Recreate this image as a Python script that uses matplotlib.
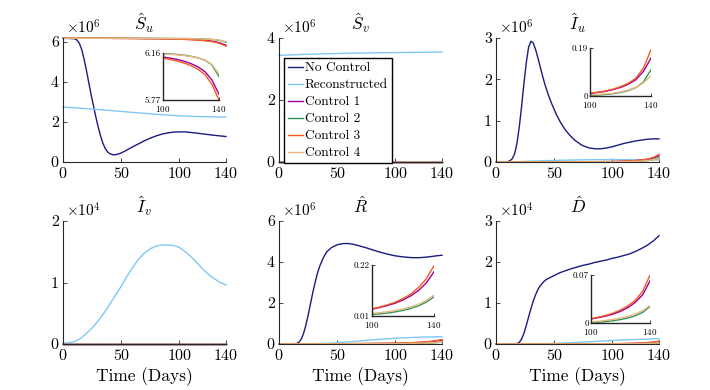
import matplotlib
matplotlib.use("Agg")
import matplotlib.pyplot as plt

plt.rcParams["font.family"] = "cmr10"
plt.rcParams["mathtext.fontset"] = "cm"
plt.rcParams["axes.formatter.use_mathtext"] = True

# series names and colours
labels = ["No Control", "Reconstructed", "Control 1", "Control 2", "Control 3", "Control 4"]
colors = ["#1b1b80", "#80c8f2", "#990099", "#2e9460", "#f5591f", "#edb97e"]

# shared time grid for the control runs
t_ctrl = [0, 20, 40, 60, 80, 90, 100, 105, 110, 115, 120, 125, 130, 135, 140]

# ---- S_u (x1e6)
t_su_nc = [0, 5, 10, 12, 14, 16, 18, 20, 22, 24, 26, 28, 30, 32, 34, 36, 38, 40, 43, 46,
           50, 55, 60, 65, 70, 75, 80, 85, 90, 95, 100, 105, 110, 115, 120, 130, 140]
su_nc = [6.16, 6.16, 6.14, 6.08, 5.92, 5.62, 5.15, 4.6, 4.0, 3.4, 2.85, 2.3, 1.8, 1.35,
         0.98, 0.7, 0.52, 0.42, 0.36, 0.37, 0.45, 0.6, 0.76, 0.91, 1.06, 1.19, 1.3,
         1.39, 1.45, 1.49, 1.5, 1.5, 1.47, 1.44, 1.4, 1.33, 1.27]
t_su_rec = [0, 20, 40, 60, 80, 100, 120, 140]
su_rec = [2.74, 2.66, 2.57, 2.47, 2.38, 2.3, 2.26, 2.24]
su_c1 = [6.170, 6.168, 6.164, 6.156, 6.145, 6.137, 6.127, 6.118, 6.107, 6.092, 6.072, 6.045, 6.005, 5.935, 5.817]
su_c2 = [6.170, 6.169, 6.168, 6.165, 6.161, 6.158, 6.155, 6.152, 6.148, 6.142, 6.133, 6.120, 6.100, 6.060, 5.965]
su_c3 = [6.170, 6.167, 6.162, 6.152, 6.138, 6.129, 6.117, 6.107, 6.094, 6.077, 6.055, 6.025, 5.980, 5.900, 5.770]
su_c4 = [6.170, 6.169, 6.167, 6.164, 6.159, 6.155, 6.152, 6.149, 6.145, 6.139, 6.131, 6.118, 6.100, 6.065, 5.985]

# ---- S_v (x1e6)
t_sv_rec = [0, 20, 40, 60, 80, 100, 120, 140]
sv_rec = [3.44, 3.47, 3.49, 3.51, 3.52, 3.53, 3.54, 3.545]
sv_zero = [0.0] * len(t_ctrl)

# ---- I_u (x1e6)
t_iu_nc = [0, 8, 10, 12, 14, 16, 18, 20, 22, 24, 26, 28, 30, 32, 34, 36, 38, 40, 42, 45,
           48, 50, 52, 55, 58, 60, 63, 65, 68, 70, 73, 75, 78, 80, 85, 90, 95, 100, 105,
           110, 115, 120, 125, 130, 135, 140]
iu_nc = [0.0, 0.003, 0.01, 0.03, 0.08, 0.2, 0.45, 0.85, 1.35, 1.9, 2.4, 2.78, 2.92, 2.88,
         2.72, 2.52, 2.3, 2.08, 1.88, 1.62, 1.4, 1.27, 1.14, 0.98, 0.84, 0.76, 0.66, 0.6,
         0.52, 0.48, 0.42, 0.39, 0.36, 0.34, 0.32, 0.32, 0.34, 0.37, 0.41, 0.45, 0.48,
         0.51, 0.53, 0.55, 0.56, 0.56]
t_iu_rec = [0, 20, 40, 60, 80, 100, 120, 140]
iu_rec = [0.0, 0.01, 0.03, 0.045, 0.055, 0.058, 0.055, 0.05]
iu_c1 = [0.001, 0.002, 0.003, 0.004, 0.006, 0.008, 0.010, 0.014, 0.018, 0.025, 0.034, 0.046, 0.064, 0.097, 0.150]
iu_c2 = [0.0, 0.0, 0.0005, 0.0008, 0.0012, 0.0016, 0.002, 0.004, 0.006, 0.009, 0.014, 0.021, 0.033, 0.055, 0.104]
iu_c3 = [0.001, 0.002, 0.003, 0.005, 0.007, 0.009, 0.011, 0.015, 0.020, 0.027, 0.037, 0.050, 0.070, 0.110, 0.183]
iu_c4 = [0.0005, 0.001, 0.0015, 0.002, 0.003, 0.0035, 0.004, 0.006, 0.008, 0.011, 0.016, 0.023, 0.034, 0.052, 0.080]

# ---- I_v (x1e4)
t_iv_rec = [0, 5, 10, 15, 20, 25, 30, 35, 40, 45, 50, 55, 60, 65, 70, 75, 80, 85, 90, 95,
            100, 105, 110, 115, 120, 125, 130, 135, 140]
iv_rec = [0.016, 0.02, 0.04, 0.09, 0.17, 0.26, 0.37, 0.5, 0.64, 0.79, 0.94, 1.1, 1.25,
          1.38, 1.48, 1.55, 1.59, 1.61, 1.61, 1.6, 1.57, 1.5, 1.42, 1.32, 1.22, 1.13,
          1.06, 1.0, 0.96]

# ---- R (x1e6)
t_r_nc = [0, 15, 17, 19, 21, 23, 25, 27, 29, 31, 33, 35, 38, 41, 45, 50, 55, 60, 65, 70,
          75, 80, 85, 90, 95, 100, 105, 110, 115, 120, 125, 130, 135, 140]
r_nc = [0.0, 0.02, 0.08, 0.22, 0.5, 0.9, 1.4, 1.95, 2.5, 3.0, 3.45, 3.8, 4.2, 4.5, 4.7,
        4.84, 4.9, 4.9, 4.85, 4.77, 4.69, 4.6, 4.51, 4.43, 4.36, 4.3, 4.26, 4.23, 4.21,
        4.21, 4.23, 4.26, 4.3, 4.33]
t_r_rec = [0, 20, 40, 60, 80, 100, 120, 140]
r_rec = [0.0, 0.005, 0.03, 0.1, 0.2, 0.28, 0.33, 0.36]
r_c1 = [0.0, 0.003, 0.008, 0.015, 0.025, 0.031, 0.038, 0.045, 0.053, 0.063, 0.076, 0.093, 0.115, 0.146, 0.192]
r_c2 = [0.0, 0.001, 0.004, 0.007, 0.011, 0.013, 0.016, 0.019, 0.022, 0.027, 0.033, 0.041, 0.052, 0.067, 0.089]
r_c3 = [0.0, 0.003, 0.008, 0.016, 0.026, 0.032, 0.040, 0.047, 0.056, 0.067, 0.082, 0.100, 0.127, 0.163, 0.217]
r_c4 = [0.0, 0.002, 0.005, 0.009, 0.014, 0.017, 0.021, 0.024, 0.028, 0.033, 0.039, 0.047, 0.058, 0.074, 0.096]

# ---- D (x1e4)
t_d_nc = [0, 18, 20, 22, 24, 26, 28, 30, 32, 34, 36, 38, 41, 43, 45, 47, 50, 55, 60, 65,
          70, 75, 80, 85, 90, 95, 100, 105, 110, 115, 120, 125, 130, 135, 140]
d_nc = [0.0, 0.01, 0.04, 0.12, 0.26, 0.45, 0.66, 0.86, 1.05, 1.2, 1.33, 1.42, 1.52, 1.57,
        1.6, 1.63, 1.67, 1.74, 1.79, 1.84, 1.88, 1.92, 1.95, 1.99, 2.02, 2.05, 2.09,
        2.12, 2.16, 2.2, 2.26, 2.33, 2.41, 2.51, 2.64]
t_d_rec = [0, 30, 50, 70, 90, 110, 140]
d_rec = [0.0, 0.003, 0.015, 0.04, 0.07, 0.1, 0.13]
d_c1 = [0.0, 0.0005, 0.0014, 0.0027, 0.004, 0.0048, 0.0058, 0.0078, 0.010, 0.013, 0.017, 0.0225, 0.030, 0.041, 0.0613]
d_c2 = [0.0, 0.0, 0.0001, 0.0001, 0.0002, 0.0002, 0.0003, 0.001, 0.002, 0.0033, 0.005, 0.0073, 0.0105, 0.0155, 0.024]
d_c3 = [0.0, 0.0005, 0.0015, 0.003, 0.0045, 0.0053, 0.0063, 0.0085, 0.011, 0.0145, 0.019, 0.025, 0.033, 0.046, 0.070]
d_c4 = [0.0, 0.0001, 0.0003, 0.0006, 0.0009, 0.0011, 0.0014, 0.0025, 0.0038, 0.0053, 0.0072, 0.0097, 0.013, 0.018, 0.0256]

zeros_ctrl = [0.0] * len(t_ctrl)

panels = [
    dict(title=r"$\hat{S}_u$", exp=6, ylim=6.18, yt=[0, 2, 4, 6],
         nc=(t_su_nc, su_nc), rec=(t_su_rec, su_rec), ctrl=[su_c1, su_c2, su_c3, su_c4],
         inset=(5.77, 6.16), ipos=[163, 53, 219, 100]),
    dict(title=r"$\hat{S}_v$", exp=6, ylim=4, yt=[0, 2, 4],
         nc=(t_ctrl, zeros_ctrl), rec=(t_sv_rec, sv_rec), ctrl=[sv_zero] * 4,
         inset=None, ipos=None),
    dict(title=r"$\hat{I}_u$", exp=6, ylim=3, yt=[0, 1, 2, 3],
         nc=(t_iu_nc, iu_nc), rec=(t_iu_rec, iu_rec), ctrl=[iu_c1, iu_c2, iu_c3, iu_c4],
         inset=(0, 0.19), ipos=[590, 48, 651, 96]),
    dict(title=r"$\hat{I}_v$", exp=4, ylim=2, yt=[0, 1, 2],
         nc=(t_ctrl, zeros_ctrl), rec=(t_iv_rec, iv_rec), ctrl=[zeros_ctrl] * 4,
         inset=None, ipos=None),
    dict(title=r"$\hat{R}$", exp=6, ylim=6, yt=[0, 2, 4, 6],
         nc=(t_r_nc, r_nc), rec=(t_r_rec, r_rec), ctrl=[r_c1, r_c2, r_c3, r_c4],
         inset=(0.01, 0.22), ipos=[372, 265, 434, 316]),
    dict(title=r"$\hat{D}$", exp=4, ylim=3, yt=[0, 1, 2, 3],
         nc=(t_d_nc, d_nc), rec=(t_d_rec, d_rec), ctrl=[d_c1, d_c2, d_c3, d_c4],
         inset=(0, 0.07), ipos=[591, 275, 650, 323]),
]

W, H = 710, 390
fig = plt.figure(figsize=(W / 100, H / 100), dpi=100)

lefts = [63, 279, 496]
rows = [(38, 162), (221, 344)]
axw = 163
spine_col = "#262626"


def style(ax, fs):
    for s in ["top", "right"]:
        ax.spines[s].set_visible(False)
    for s in ["left", "bottom"]:
        ax.spines[s].set_color(spine_col)
        ax.spines[s].set_linewidth(0.8)
    ax.tick_params(direction="in", length=3, width=0.6, colors=spine_col,
                   labelcolor="black", labelsize=fs, pad=3)


for i, p in enumerate(panels):
    r, c = divmod(i, 3)
    top, bot = rows[r]
    ax = fig.add_axes([lefts[c] / W, 1 - bot / H, axw / W, (bot - top) / H])
    lines = []
    ln, = ax.plot(*p["nc"], color=colors[0], lw=1.0, clip_on=False)
    lines.append(ln)
    ln, = ax.plot(*p["rec"], color=colors[1], lw=1.0, clip_on=False)
    lines.append(ln)
    for k, y in enumerate(p["ctrl"]):
        ln, = ax.plot(t_ctrl, y, color=colors[2 + k], lw=1.0, clip_on=False)
        lines.append(ln)
    ax.set_xlim(0, 140)
    ax.set_ylim(0, p["ylim"])
    ax.set_xticks([0, 50, 100, 140])
    ax.set_yticks(p["yt"])
    ax.set_yticklabels([str(v) for v in p["yt"]])
    style(ax, 11.5)
    ax.set_title(p["title"], fontsize=12.5, pad=6)
    ax.text(0.02, 1.01, r"$\times 10^{%d}$" % p["exp"], transform=ax.transAxes,
            fontsize=11, ha="left", va="bottom")
    if r == 1:
        ax.set_xlabel("Time (Days)", fontsize=12.5, labelpad=3)
    if i == 1:
        fig.legend(lines, labels, loc="upper left",
                   bbox_to_anchor=(284 / W, 1 - 58 / H), fontsize=9.6,
                   frameon=True, fancybox=False, edgecolor="black", framealpha=1,
                   handlelength=1.1, handletextpad=0.15, borderpad=0.3,
                   labelspacing=0.35, borderaxespad=0)
    if p["inset"] is not None:
        x0, y0, x1, y1 = p["ipos"]
        ia = fig.add_axes([x0 / W, 1 - y1 / H, (x1 - x0) / W, (y1 - y0) / H])
        for k, y in enumerate(p["ctrl"]):
            ia.plot(t_ctrl, y, color=colors[2 + k], lw=1.0)
        lo, hi = p["inset"]
        ia.set_xlim(100, 140)
        ia.set_ylim(lo, hi)
        ia.set_xticks([100, 140])
        ia.set_yticks([lo, hi])
        ia.set_yticklabels([f"{v:g}" for v in (lo, hi)])
        style(ia, 6.5)
        ia.tick_params(length=2, pad=1.5)
        ia.tick_params(axis="x", pad=3)
        ia.spines["left"].set_linewidth(1.0)
        ia.spines["bottom"].set_linewidth(1.0)
        ia.patch.set_alpha(0)

fig.savefig("out.png", dpi=100)
